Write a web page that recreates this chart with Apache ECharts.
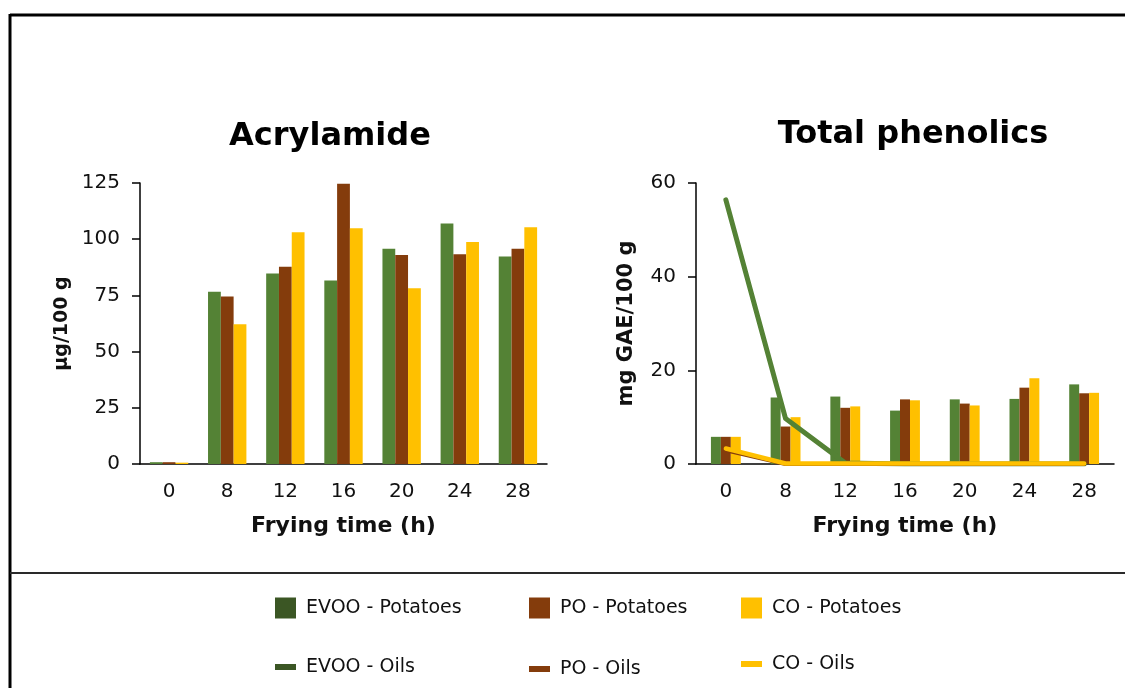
<!DOCTYPE html>
<html>
<head>
<meta charset="utf-8">
<script src="https://cdn.jsdelivr.net/npm/echarts@6/dist/echarts.min.js"></script>
<style>
html,body{margin:0;padding:0;background:#fff;}
#c{width:1125px;height:688px;}
</style>
</head>
<body>
<div id="c"></div>
<script>
const categories = ['0', '8', '12', '16', '20', '24', '28'];

// Acrylamide (µg/100 g) in potatoes
const acrEVOO = [0.8, 76.6, 84.7, 81.6, 95.8, 107.0, 92.3];
const acrPO   = [0.8, 74.5, 87.7, 124.7, 93.0, 93.3, 95.8];
const acrCO   = [0.6, 62.2, 103.1, 104.9, 78.2, 98.8, 105.3];

// Total phenolics (mg GAE/100 g) in potatoes
const phePotEVOO = [5.8, 14.2, 14.4, 11.4, 13.8, 13.9, 17.0];
const phePotPO   = [5.8, 8.0, 12.0, 13.8, 12.9, 16.3, 15.1];
const phePotCO   = [5.8, 10.0, 12.3, 13.6, 12.5, 18.3, 15.2];

// Total phenolics (mg GAE/100 g) in oils
const pheOilEVOO = [56.4, 9.7, 0.2, 0, 0, 0, 0];
const pheOilPO   = [2.9, 0, 0, 0, 0, 0, 0];
const pheOilCO   = [3.3, 0.1, 0.1, 0.1, 0.1, 0.1, 0.1];

const acrTicks = {min: 0, max: 125, interval: 25};
const pheTicks = {min: 0, max: 60, interval: 20};

const GREEN = '#548235', BROWN = '#843C0C', YELLOW = '#FFC000', DKGREEN = '#3B5624';
const FONT = 'DejaVu Sans';

const chart = echarts.init(document.getElementById('c'), null, {renderer: 'canvas'});

function xAxis(gi) {
  return {
    type: 'category', gridIndex: gi, data: categories,
    axisLine: {lineStyle: {color: '#000', width: 1.5}},
    axisTick: {show: false},
    axisLabel: {color: '#111', fontSize: 20, margin: 18, fontFamily: FONT},
    name: 'Frying time (h)', nameLocation: 'middle', nameGap: 51,
    nameTextStyle: {color: '#111', fontSize: 22, fontWeight: 'bold', fontFamily: FONT}
  };
}
function yAxis(gi, t, name, gap, nsize) {
  return {
    type: 'value', gridIndex: gi, min: t.min, max: t.max, interval: t.interval,
    axisLine: {show: true, lineStyle: {color: '#000', width: 1.5}},
    axisTick: {show: true, length: 8, lineStyle: {color: '#000', width: 1.5}},
    splitLine: {show: false},
    axisLabel: {color: '#111', fontSize: 20, margin: 20, fontFamily: FONT},
    name: name, nameLocation: 'middle', nameGap: gap,
    nameTextStyle: {color: '#111', fontSize: nsize, fontWeight: 'bold', fontFamily: FONT}
  };
}
function bar(name, data, color, gi, gap) {
  return {name, type: 'bar', xAxisIndex: gi, yAxisIndex: gi, data,
    itemStyle: {color}, barGap: '0%', barCategoryGap: gap};
}
function line(name, data, color, w) {
  return {name, type: 'line', xAxisIndex: 1, yAxisIndex: 1, data, symbol: 'none',
    lineStyle: {color, width: w, cap: 'round', join: 'round'}, itemStyle: {color}, z: 5};
}
function leg(name, x, y, color, h) {
  return {
    left: x, top: y, orient: 'horizontal', itemWidth: 21, itemHeight: h, padding: 0,
    selectedMode: false,
    data: [{name, icon: 'rect', itemStyle: {color}}],
    textStyle: {color: '#111', fontSize: 19, fontFamily: FONT, lineHeight: 22, padding: [0, 0, 0, 5]}
  };
}

chart.setOption({
  animation: false,
  textStyle: {fontFamily: FONT},
  grid: [
    {left: 140, top: 183, width: 407, height: 281},
    {left: 696, top: 183, width: 418, height: 281}
  ],
  xAxis: [xAxis(0), xAxis(1)],
  yAxis: [yAxis(0, acrTicks, 'µg/100 g', 68, 19), yAxis(1, pheTicks, 'mg GAE/100 g', 59, 21)],
  legend: [
    leg('EVOO - Potatoes', 275, 597, DKGREEN, 21),
    leg('PO - Potatoes', 529, 597, BROWN, 21),
    leg('CO - Potatoes', 741, 597, YELLOW, 21),
    leg('EVOO - Oils', 275, 656, DKGREEN, 6),
    leg('PO - Oils', 529, 658, BROWN, 6),
    leg('CO - Oils', 741, 653, YELLOW, 6)
  ],
  graphic: [
    {type: 'line', shape: {x1: 10, y1: 15, x2: 1125, y2: 15}, style: {stroke: '#000', lineWidth: 3}},
    {type: 'line', shape: {x1: 10, y1: 14, x2: 10, y2: 688}, style: {stroke: '#000', lineWidth: 3}},
    {type: 'line', shape: {x1: 10, y1: 573, x2: 1125, y2: 573}, style: {stroke: '#2a2a2a', lineWidth: 2}},
    {type: 'text', x: 330, y: 137, style: {text: 'Acrylamide', fill: '#000', textAlign: 'center', textVerticalAlign: 'middle', font: 'bold 32px "DejaVu Sans"'}},
    {type: 'text', x: 913, y: 135, style: {text: 'Total phenolics', fill: '#000', textAlign: 'center', textVerticalAlign: 'middle', font: 'bold 32px "DejaVu Sans"'}}
  ],
  series: [
    bar('EVOO - Potatoes', acrEVOO, GREEN, 0, '34%'),
    bar('PO - Potatoes', acrPO, BROWN, 0, '34%'),
    bar('CO - Potatoes', acrCO, YELLOW, 0, '34%'),
    bar('EVOO - Potatoes', phePotEVOO, GREEN, 1, '50%'),
    bar('PO - Potatoes', phePotPO, BROWN, 1, '50%'),
    bar('CO - Potatoes', phePotCO, YELLOW, 1, '50%'),
    line('EVOO - Oils', pheOilEVOO, GREEN, 5),
    line('PO - Oils', pheOilPO, BROWN, 4),
    line('CO - Oils', pheOilCO, YELLOW, 4.5)
  ]
});
</script>
</body>
</html>
